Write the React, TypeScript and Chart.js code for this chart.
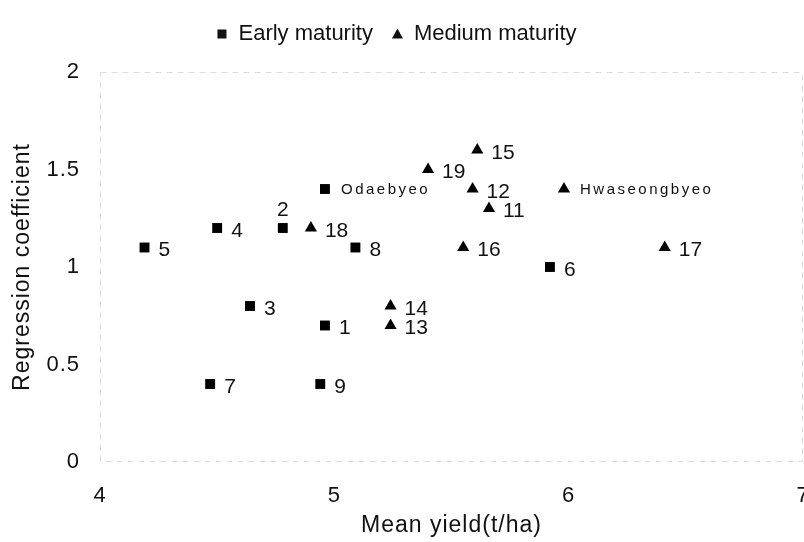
import React, { useEffect, useRef } from 'react';
import { Chart, registerables } from 'chart.js';

Chart.register(...registerables);

// Early maturity cultivars
const earlyX = [4.96, 4.78, 4.64, 4.5, 4.19, 5.92, 4.47, 5.09, 4.94, 4.96];
const earlyY = [0.7, 1.2, 0.8, 1.2, 1.1, 1.0, 0.4, 1.1, 0.4, 1.4];
const earlyLabels = ['1', '2', '3', '4', '5', '6', '7', '8', '9', 'Odaebyeo'];

// Medium maturity cultivars
const mediumX = [5.66, 5.59, 5.24, 5.24, 5.61, 5.55, 6.41, 4.9, 5.4, 5.98];
const mediumY = [1.3, 1.4, 0.7, 0.8, 1.6, 1.1, 1.1, 1.2, 1.5, 1.4];
const mediumLabels = ['11', '12', '13', '14', '15', '16', '17', '18', '19', 'Hwaseongbyeo'];

const seriesNames = ['Early maturity', 'Medium maturity'];
const labelsAbove = ['2'];

const xMin = 4;
const xMax = 7;
const xStep = 1;
const yMin = 0;
const yMax = 2;
const yStep = 0.5;

const xTitle = 'Mean yield(t/ha)';
const yTitle = 'Regression coefficient';

const FONT = '"Liberation Sans", Arial, sans-serif';
const INK = '#111111';

const pointLabelPlugin = {
  id: 'pointLabels',
  afterDatasetsDraw(chart: any) {
    const ctx = chart.ctx as CanvasRenderingContext2D;
    const allLabels = [earlyLabels, mediumLabels];
    chart.data.datasets.forEach((_ds: any, di: number) => {
      const meta = chart.getDatasetMeta(di);
      const labels = allLabels[di];
      meta.data.forEach((pt: any, i: number) => {
        const text = labels[i];
        if (!text) return;
        ctx.save();
        ctx.fillStyle = INK;
        const isName = text.length > 2;
        if (isName) {
          ctx.font = `15px ${FONT}`;
          (ctx as any).letterSpacing = '2.5px';
        } else {
          ctx.font = `21px ${FONT}`;
          (ctx as any).letterSpacing = '0px';
        }
        if (labelsAbove.includes(text)) {
          ctx.textAlign = 'center';
          ctx.textBaseline = 'alphabetic';
          ctx.fillText(text, pt.x, pt.y - 12);
        } else {
          ctx.textAlign = 'left';
          ctx.textBaseline = 'middle';
          ctx.fillText(text, pt.x + (isName ? 16 : 14), pt.y + (isName ? 1 : 3));
        }
        ctx.restore();
      });
    });
  },
};

const framePlugin = {
  id: 'frame',
  beforeDraw(chart: any) {
    (chart.ctx as any).letterSpacing = '1px';
  },
  beforeDatasetsDraw(chart: any) {
    const ctx = chart.ctx as CanvasRenderingContext2D;
    const a = chart.chartArea;
    ctx.save();
    ctx.strokeStyle = '#dcdcdc';
    ctx.lineWidth = 1;
    ctx.setLineDash([6, 5]);
    ctx.beginPath();
    ctx.moveTo(a.left + 0.5, a.top + 0.5);
    ctx.lineTo(a.right - 0.5, a.top + 0.5);
    ctx.lineTo(a.right - 0.5, a.bottom - 0.5);
    ctx.lineTo(a.left + 0.5, a.bottom - 0.5);
    ctx.closePath();
    ctx.stroke();
    ctx.restore();
  },
  afterDraw(chart: any) {
    const ctx = chart.ctx as CanvasRenderingContext2D;
    // legend
    ctx.save();
    (ctx as any).letterSpacing = '0px';
    ctx.font = `22px ${FONT}`;
    ctx.fillStyle = INK;
    ctx.textBaseline = 'middle';
    ctx.textAlign = 'left';
    const w0 = ctx.measureText(seriesNames[0]).width;
    const w1 = ctx.measureText(seriesNames[1]).width;
    const total = 9 + 12 + w0 + 19 + 11 + 11 + w1;
    let x = chart.width / 2 - 5 - total / 2;
    const cy = 34;
    ctx.fillRect(x, cy - 4.5, 9, 9);
    x += 9 + 12;
    ctx.fillText(seriesNames[0], x, cy);
    x += w0 + 19;
    ctx.beginPath();
    ctx.moveTo(x + 5.5, cy - 5.5);
    ctx.lineTo(x + 11, cy + 4.5);
    ctx.lineTo(x, cy + 4.5);
    ctx.closePath();
    ctx.fill();
    x += 11 + 11;
    ctx.fillText(seriesNames[1], x, cy);
    ctx.restore();
    (ctx as any).letterSpacing = '0px';
  },
};

const fmt = (v: any) => String(Math.round(Number(v) * 10) / 10);

export default function App() {
  const canvasRef = useRef<HTMLCanvasElement | null>(null);

  useEffect(() => {
    if (!canvasRef.current) return;
    const chart = new Chart(canvasRef.current, {
      type: 'scatter',
      data: {
        datasets: [
          {
            label: seriesNames[0],
            data: earlyX.map((x, i) => ({ x, y: earlyY[i] })),
            pointStyle: 'rect',
            pointRadius: 7,
            pointHoverRadius: 7,
            backgroundColor: '#000',
            borderColor: '#000',
            borderWidth: 0,
          },
          {
            label: seriesNames[1],
            data: mediumX.map((x, i) => ({ x, y: mediumY[i] })),
            pointStyle: 'triangle',
            pointRadius: 7,
            pointHoverRadius: 7,
            backgroundColor: '#000',
            borderColor: '#000',
            borderWidth: 0,
          },
        ],
      },
      options: {
        animation: false,
        responsive: true,
        maintainAspectRatio: false,
        layout: { autoPadding: false, padding: { top: 72, right: 1, bottom: 0, left: 0 } },
        plugins: {
          legend: { display: false },
          tooltip: { enabled: false },
        },
        scales: {
          x: {
            type: 'linear',
            min: xMin,
            max: xMax,
            ticks: {
              stepSize: xStep,
              padding: 21,
              color: INK,
              font: { family: FONT, size: 22 },
              maxRotation: 0,
              callback: fmt,
            },
            grid: { display: false, drawTicks: false },
            border: { display: false },
            title: {
              display: true,
              text: xTitle,
              color: INK,
              font: { family: FONT, size: 23 },
              padding: { top: 0, bottom: 3 },
            },
            afterFit: (s: any) => {
              s.height = 80;
              s.paddingLeft = 0;
              s.paddingRight = 0;
            },
          },
          y: {
            type: 'linear',
            min: yMin,
            max: yMax,
            ticks: {
              stepSize: yStep,
              padding: 20,
              color: INK,
              font: { family: FONT, size: 22 },
              callback: fmt,
            },
            grid: { display: false, drawTicks: false },
            border: { display: false },
            title: {
              display: true,
              text: yTitle,
              color: INK,
              font: { family: FONT, size: 23 },
              padding: { top: 9, bottom: 0 },
            },
            afterFit: (s: any) => {
              s.width = 100;
              s.paddingTop = 0;
              s.paddingBottom = 0;
            },
          },
        },
      } as any,
      plugins: [framePlugin, pointLabelPlugin],
    });
    return () => chart.destroy();
  }, []);

  return (
    <div style={{ position: 'fixed', left: 0, top: 0, width: 804, height: 542, background: '#fff' }}>
      <canvas ref={canvasRef} />
    </div>
  );
}
